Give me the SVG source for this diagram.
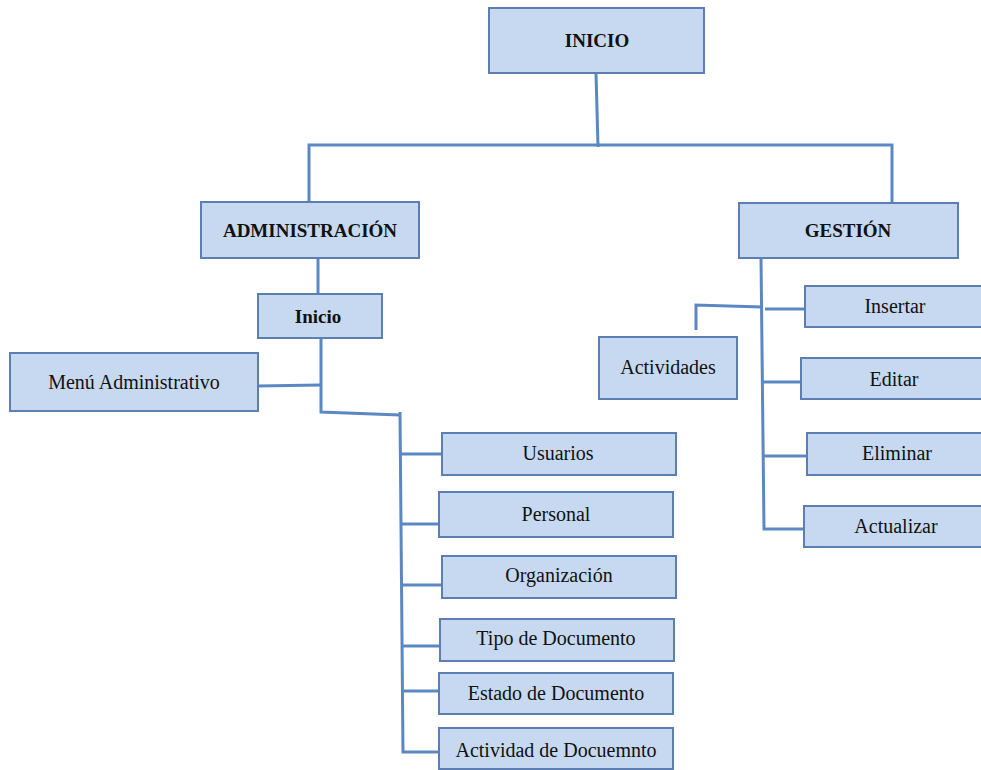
<svg xmlns="http://www.w3.org/2000/svg" width="981" height="770" viewBox="0 0 981 770">
  <style>
    .box { fill: #C6D9F0; stroke: #5C7EB2; stroke-width: 2; }
    .lbl { font-family: "Liberation Serif", "Times New Roman", serif; font-size: 20px; fill: #111; text-anchor: middle; }
    .b { font-weight: bold; font-size: 19px; }
    .wire { fill: none; stroke: #5B87C3; stroke-width: 3; stroke-linejoin: miter; }
  </style>
  <rect width="981" height="770" fill="#fff"/>

  <!-- connectors -->
  <g id="connectors" class="wire">
    <path d="M596 73 L598 147"/>
    <path d="M309 201 L309 145 L892 145 L892 203"/>
    <path d="M318 258 L318 294"/>
    <path d="M321 338 L321 412 L400 415"/>
    <path d="M258 386 L321 385"/>
    <path d="M400 412 L403 752 L439 752"/>
    <path d="M400 454 L442 454"/>
    <path d="M401 524 L439 524"/>
    <path d="M401 585 L442 585"/>
    <path d="M402 646 L440 646"/>
    <path d="M402 691 L439 691"/>
    <path d="M761 258 L764 529 L804 529"/>
    <path d="M696 330 L696 305 L762 307"/>
    <path d="M765 309 L805 309"/>
    <path d="M763 382 L801 382"/>
    <path d="M764 456 L807 456"/>
  </g>

  <g id="inicio">
    <rect class="box" x="489" y="8" width="215" height="65"/>
    <text class="lbl b" x="597" y="47">INICIO</text>
  </g>
  <g id="administracion">
    <rect class="box" x="201" y="202" width="218" height="56"/>
    <text class="lbl b" x="310" y="237">ADMINISTRACIÓN</text>
  </g>
  <g id="gestion">
    <rect class="box" x="739" y="203" width="219" height="55"/>
    <text class="lbl b" x="848" y="237">GESTIÓN</text>
  </g>
  <g id="inicio-admin">
    <rect class="box" x="258" y="294" width="124" height="44"/>
    <text class="lbl b" x="318" y="323">Inicio</text>
  </g>
  <g id="menu-administrativo">
    <rect class="box" x="10" y="353" width="248" height="58"/>
    <text class="lbl" x="134" y="389">Menú Administrativo</text>
  </g>
  <g id="usuarios">
    <rect class="box" x="442" y="433" width="234" height="42"/>
    <text class="lbl" x="558" y="460">Usuarios</text>
  </g>
  <g id="personal">
    <rect class="box" x="439" y="492" width="234" height="45"/>
    <text class="lbl" x="556" y="521">Personal</text>
  </g>
  <g id="organizacion">
    <rect class="box" x="442" y="556" width="234" height="42"/>
    <text class="lbl" x="559" y="582">Organización</text>
  </g>
  <g id="tipo-documento">
    <rect class="box" x="440" y="619" width="234" height="42"/>
    <text class="lbl" x="556" y="645">Tipo de Documento</text>
  </g>
  <g id="estado-documento">
    <rect class="box" x="439" y="673" width="234" height="41"/>
    <text class="lbl" x="556" y="700">Estado de Documento</text>
  </g>
  <g id="actividad-documento">
    <rect class="box" x="439" y="728" width="234" height="41"/>
    <text class="lbl" x="556" y="757">Actividad de Docuemnto</text>
  </g>
  <g id="actividades">
    <rect class="box" x="599" y="337" width="138" height="62"/>
    <text class="lbl" x="668" y="374">Actividades</text>
  </g>
  <g id="insertar">
    <rect class="box" x="805" y="286" width="182" height="41"/>
    <text class="lbl" x="895" y="313">Insertar</text>
  </g>
  <g id="editar">
    <rect class="box" x="801" y="358" width="186" height="41"/>
    <text class="lbl" x="894" y="386">Editar</text>
  </g>
  <g id="eliminar">
    <rect class="box" x="807" y="433" width="180" height="42"/>
    <text class="lbl" x="897" y="460">Eliminar</text>
  </g>
  <g id="actualizar">
    <rect class="box" x="804" y="506" width="183" height="41"/>
    <text class="lbl" x="896" y="533">Actualizar</text>
  </g>
</svg>
